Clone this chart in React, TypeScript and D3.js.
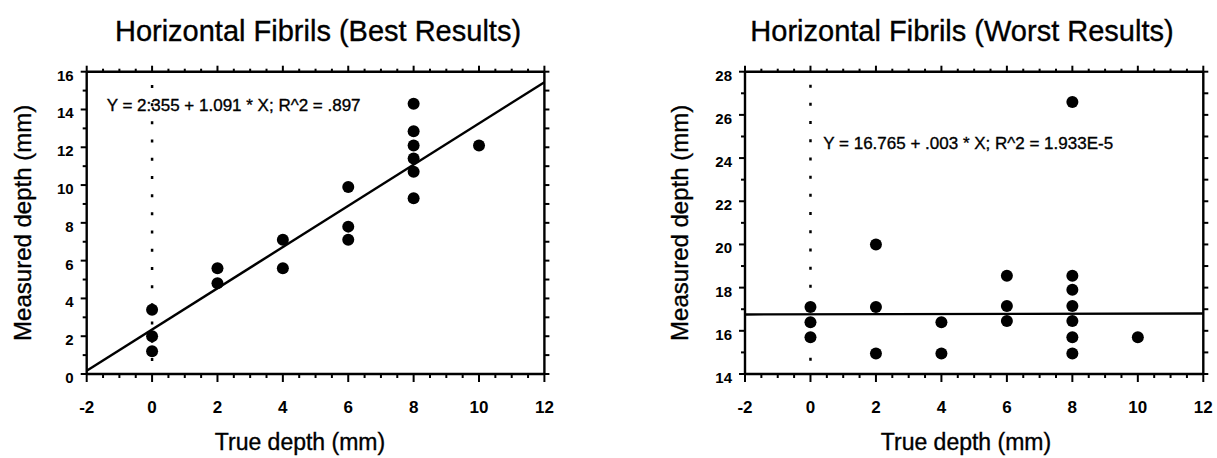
import React from "react";
import * as d3 from "d3";

// Best results panel
const bestX = [0, 0, 0, 2, 2, 4, 4, 6, 6, 6, 8, 8, 8, 8, 8, 8, 10];
const bestY = [3.4, 2.0, 1.2, 5.6, 4.8, 7.1, 5.6, 9.9, 7.8, 7.1, 14.3, 12.85, 12.1, 11.4, 10.7, 9.3, 12.1];
const bestFit = [2.355, 1.091]; // intercept, slope
const bestEquation = "Y = 2:355 + 1.091 * X; R^2 = .897";
const bestYTicks = [0, 2, 4, 6, 8, 10, 12, 14, 16];

// Worst results panel
const worstX = [0, 0, 0, 2, 2, 2, 4, 4, 6, 6, 6, 8, 8, 8, 8, 8, 8, 8, 10];
const worstY = [17.1, 16.4, 15.7, 20.0, 17.1, 14.95, 16.4, 14.95, 18.55, 17.15, 16.45, 26.6, 18.55, 17.9, 17.15, 16.45, 15.7, 14.95, 15.7];
const worstFit = [16.765, 0.003];
const worstEquation = "Y = 16.765 + .003 * X; R^2 = 1.933E-5";
const worstYTicks = [14, 16, 18, 20, 22, 24, 26, 28];

const xTicks = [-2, 0, 2, 4, 6, 8, 10, 12];

const FONT = "'Liberation Sans', Arial, Helvetica, sans-serif";

type PanelProps = {
  title: string;
  xs: number[];
  ys: number[];
  fit: number[];
  equation: string;
  yTicks: number[];
  left: number;
  right: number;
  dotTop: number;
  eqX: number;
  eqY: number;
  titleX: number;
  xLabelX: number;
  yLabelX: number;
};

function Panel(p: PanelProps) {
  const top = 71.7;
  const bottom = 374;
  const x = d3.scaleLinear().domain([-2, 12]).range([p.left, p.right]);
  const yDom = d3.extent(p.yTicks) as [number, number];
  const y = d3.scaleLinear().domain(yDom).range([bottom, top]);

  // minor ticks: x every 0.5, y every 1
  const xMinor = d3.range(-2, 12.001, 0.5).filter((v) => v % 2 !== 0);
  const yMinor = d3.range(yDom[0], yDom[1] + 0.001, 1).filter((v) => !p.yTicks.includes(v));
  const yAll = d3.range(yDom[0], yDom[1] + 0.001, 1);

  const line = d3
    .line<number>()
    .x((d) => x(d))
    .y((d) => y(p.fit[0] + p.fit[1] * d));

  // scanned text looks a little heavier than plain regular weight
  const heavy = { stroke: "#000", strokeWidth: 0.35 };

  return (
    <g>
      <text x={p.titleX} y={41} textAnchor="middle" fontSize={29} fontFamily={FONT} {...heavy}>
        {p.title}
      </text>

      {/* frame */}
      <g stroke="#000" strokeWidth={2.4} fill="none">
        <line x1={p.left} x2={p.right} y1={bottom} y2={bottom} />
        <line x1={p.left} x2={p.right} y1={top} y2={top} />
        <line x1={p.left} x2={p.left} y1={top} y2={bottom} />
        <line x1={p.right} x2={p.right} y1={top} y2={bottom} />
      </g>

      {/* ticks */}
      <g stroke="#000" strokeWidth={2}>
        {xTicks.map((t) => (
          <g key={"xt" + t}>
            <line x1={x(t)} x2={x(t)} y1={bottom} y2={bottom + 8} />
            <line x1={x(t)} x2={x(t)} y1={top} y2={top - 6} />
          </g>
        ))}
        {xMinor.map((t) => (
          <g key={"xm" + t}>
            <line x1={x(t)} x2={x(t)} y1={bottom} y2={bottom + 4} />
            <line x1={x(t)} x2={x(t)} y1={top} y2={top - 3} />
          </g>
        ))}
        {p.yTicks.map((t) => (
          <line key={"yt" + t} x1={p.left - 6} x2={p.left} y1={y(t)} y2={y(t)} />
        ))}
        {yMinor.map((t) => (
          <line key={"ym" + t} x1={p.left - 4} x2={p.left} y1={y(t)} y2={y(t)} />
        ))}
        {yAll.map((t) => (
          <line key={"yr" + t} x1={p.right} x2={p.right + 5} y1={y(t)} y2={y(t)} />
        ))}
      </g>

      {xTicks.map((t) => (
        <text key={"xl" + t} x={x(t)} y={413} textAnchor="middle" fontSize={17} fontWeight="bold" fontFamily={FONT}>
          {t}
        </text>
      ))}
      {p.yTicks.map((t) => (
        <text key={"yl" + t} x={p.left - 13} y={y(t) + 9} textAnchor="end" fontSize={15} fontWeight="bold" fontFamily={FONT}>
          {t}
        </text>
      ))}

      <text x={p.xLabelX} y={450} textAnchor="middle" fontSize={23} fontFamily={FONT} {...heavy}>
        True depth (mm)
      </text>
      <text
        transform={`translate(${p.yLabelX},${(top + bottom) / 2}) rotate(-90)`}
        textAnchor="middle"
        fontSize={24}
        fontFamily={FONT}
        {...heavy}
      >
        Measured depth (mm)
      </text>

      {/* dotted reference line at x = 0 */}
      <line
        x1={x(0)}
        x2={x(0)}
        y1={y(p.dotTop)}
        y2={bottom}
        stroke="#000"
        strokeWidth={2.5}
        strokeDasharray="3,15.2"
      />

      {/* regression line */}
      <path d={line([-2, 12]) || ""} stroke="#000" strokeWidth={2.4} fill="none" />

      {p.xs.map((v, i) => (
        <circle key={"pt" + i} cx={x(v)} cy={y(p.ys[i])} r={6} fill="#000" />
      ))}

      <text x={p.eqX} y={p.eqY} fontSize={17} fontFamily={FONT} {...heavy}>
        {p.equation}
      </text>
    </g>
  );
}

export default function App() {
  return (
    <svg
      width={1217}
      height={458}
      style={{ position: "absolute", left: 0, top: 0, background: "#fff" }}
    >
      <Panel
        title="Horizontal Fibrils (Best Results)"
        xs={bestX}
        ys={bestY}
        fit={bestFit}
        equation={bestEquation}
        yTicks={bestYTicks}
        left={86.7}
        right={544.4}
        dotTop={15.3}
        eqX={106.7}
        eqY={110.7}
        titleX={318}
        xLabelX={300}
        yLabelX={31}
      />
      <Panel
        title="Horizontal Fibrils (Worst Results)"
        xs={worstX}
        ys={worstY}
        fit={worstFit}
        equation={worstEquation}
        yTicks={worstYTicks}
        left={745}
        right={1203.3}
        dotTop={27.4}
        eqX={823.3}
        eqY={149.3}
        titleX={962}
        xLabelX={966}
        yLabelX={688}
      />
    </svg>
  );
}
